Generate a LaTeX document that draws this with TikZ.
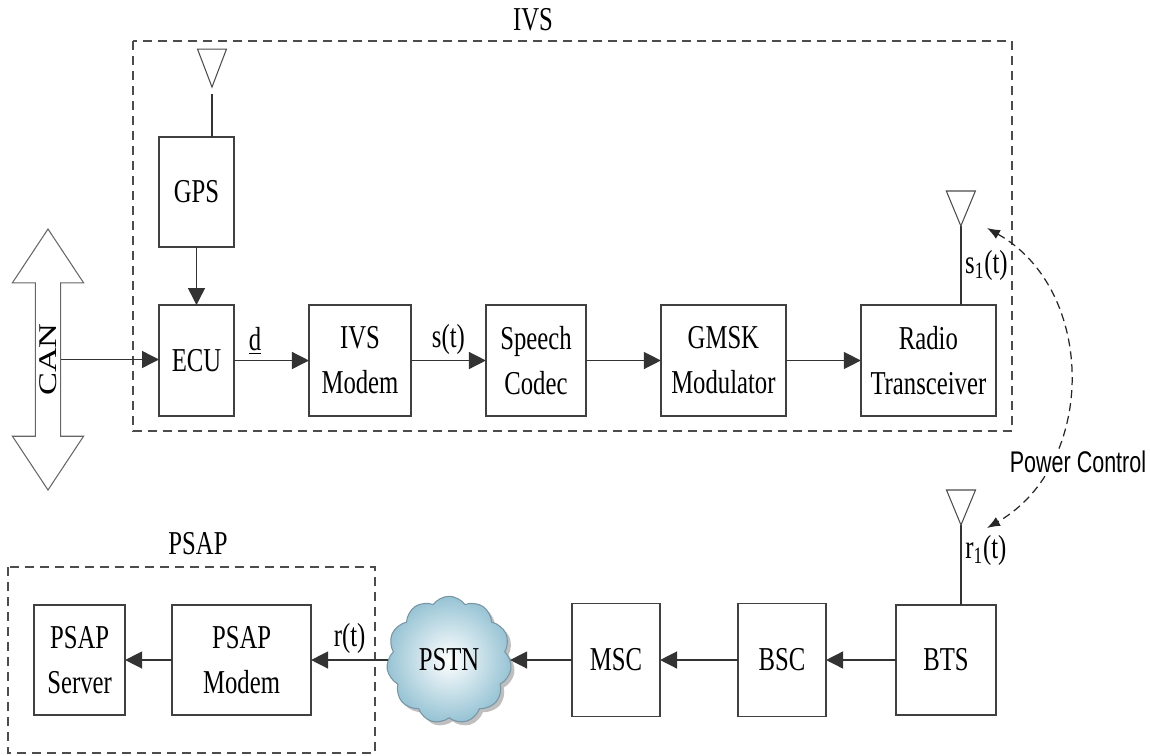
\documentclass[tikz,border=0pt]{standalone}
\usepackage{fontspec}
\setmainfont[FakeStretch=0.74]{Liberation Serif}
\newfontfamily\pcfont[FakeStretch=0.72]{Liberation Sans}
\newfontfamily\canfont[FakeStretch=1.35]{Liberation Serif}
\usepackage{tikz}
\usetikzlibrary{positioning,arrows.meta,shapes.arrows,shapes.symbols,shadows}
\definecolor{cloudblue}{RGB}{150,195,212}
\definecolor{cloudline}{RGB}{120,150,165}

\begin{document}
\begin{tikzpicture}[
	x=0.02cm, y=-0.02cm,
	font=\fontsize{19}{25.5}\selectfont,
	block/.style={rectangle, draw=black!75, line width=0.8pt, align=center, minimum height=2.22cm, inner sep=2pt, outer sep=0pt},
	group/.style={draw=black!70, line width=0.9pt, dash pattern=on 0.18cm off 0.12cm},
	sig/.style={-{Triangle[length=3.4mm,width=3.4mm]}, line width=0.8pt, draw=black!80},
	antline/.style={line width=0.9pt, draw=black!80},
	ant/.style={draw=black!70, line width=0.6pt},
	lbl/.style={inner sep=3pt},
	pcarrow/.style={{Latex[length=2.6mm,width=2mm]}-{Latex[length=2.6mm,width=2mm]}, dash pattern=on 0.16cm off 0.1cm, line width=0.7pt, draw=black!85},
	cloudnode/.style={cloud, cloud puffs=11, cloud puff arc=110, aspect=1, draw=cloudline, line width=0.6pt, outer sep=0pt, inner color=white, outer color=cloudblue, drop shadow={shadow xshift=2pt, shadow yshift=-2pt, opacity=0.5}, minimum width=2.5cm, minimum height=2.55cm},
	node distance=1.5cm,
	]
	\useasboundingbox (0,0) rectangle (1150,755);
	%Nodes
	\node[block, minimum width=1.5cm]   (ecu)      at (196.5,360.5)  {ECU};
	\node[block, minimum width=2.04cm]  (ivsmodem) [right=of ecu]      {IVS\\Modem};
	\node[block, minimum width=2cm]     (codec)    [right=of ivsmodem] {Speech\\Codec};
	\node[block, minimum width=2.5cm]   (gmsk)     [right=of codec]    {GMSK\\Modulator};
	\node[block, minimum width=2.7cm]   (radio)    [right=of gmsk]     {Radio\\Transceiver};
	\node[block, minimum width=1.5cm, minimum height=2.2cm] (gps) [above=1.16cm of ecu] {GPS};
	\node[double arrow, draw=black!60, line width=0.6pt, rotate=90, minimum height=5.22cm, double arrow head extend=0.46cm, double arrow tip angle=67, inner xsep=2pt, inner ysep=0.07cm, font=\canfont\fontsize{14.5}{16}\selectfont] (can) at (48,359.5) {CAN};
	
	\node[block, minimum width=2cm, minimum height=2.2cm]     (bts)        at (946,660)          {BTS};
	\node[block, minimum width=1.76cm, minimum height=2.26cm] (bsc)        [left=1.4cm of bts]   {BSC};
	\node[block, minimum width=1.76cm, minimum height=2.26cm] (msc)        [left=1.56cm of bsc]  {MSC};
	\node[cloudnode]                                          (pstn)       [left=1.24cm of msc]  {PSTN};
	\node[block, minimum width=2.78cm, minimum height=2.2cm]  (psapmodem)  [left=1.54cm of pstn] {PSAP\\Modem};
	\node[block, minimum width=1.82cm, minimum height=2.2cm]  (psapserver) [left=0.94cm of psapmodem] {PSAP\\Server};
	
	%Groups
	\draw[group] (133,41) rectangle (1012,431);
	\draw[group] (8,567) rectangle (375,753);
	\node (ivs)  at (533,20)  {IVS};
	\node (psap) at (198,544) {PSAP};
	
	%Antennas
	\coordinate (gpsant)   at ([xshift=0.31cm]gps.north);
	\coordinate (radioant) at ([xshift=0.65cm]radio.north);
	\coordinate (btsant)   at ([xshift=0.3cm]bts.north);
	\draw[antline] (gpsant) -- ++(0,-43);
	\draw[ant] (gpsant) ++(0,-50) -- ++(-14.5,-38) -- ++(29,0) -- cycle;
	\draw[antline] (radioant) -- ++(0,-79) node[lbl, right, midway, inner sep=2pt] {s\textsubscript{1}(t)};
	\draw[ant] (radioant) ++(0,-79) -- ++(-14.5,-35) -- ++(29,0) -- cycle;
	\draw[antline] (btsant) -- ++(0,-80) node[lbl, right, pos=0.68, inner sep=2pt] {r\textsubscript{1}(t)};
	\draw[ant] (btsant) ++(0,-80) -- ++(-14.5,-35) -- ++(29,0) -- cycle;
	
	%Lines
	\draw[sig] (gps) -- (ecu);
	\draw[sig] (can.south) -- (can.south -| ecu.west);
	\draw[sig] (ecu) -- node[lbl, above, pos=0.28] {\underline{d}} (ivsmodem);
	\draw[sig] (ivsmodem) -- node[lbl, above] {s(t)} (codec);
	\draw[sig] (codec) -- (gmsk);
	\draw[sig] (gmsk) -- (radio);
	\draw[sig] (bts) -- (bsc);
	\draw[sig] (bsc) -- (msc);
	\draw[sig] (msc) -- (pstn);
	\draw[sig] (pstn) -- node[lbl, above] {r(t)} (psapmodem);
	\draw[sig] (psapmodem) -- (psapserver);
	
	%Power control
	\coordinate (pctop) at (987,228);
	\coordinate (pcbot) at (987,528);
	\draw[pcarrow] (pctop) .. controls (1097,290) and (1097,465) .. (pcbot);
	\node[fill=white, inner sep=1pt, font=\pcfont\fontsize{17}{20}\selectfont] (pc) at (1078,462) {Power Control};
\end{tikzpicture}
\end{document}
